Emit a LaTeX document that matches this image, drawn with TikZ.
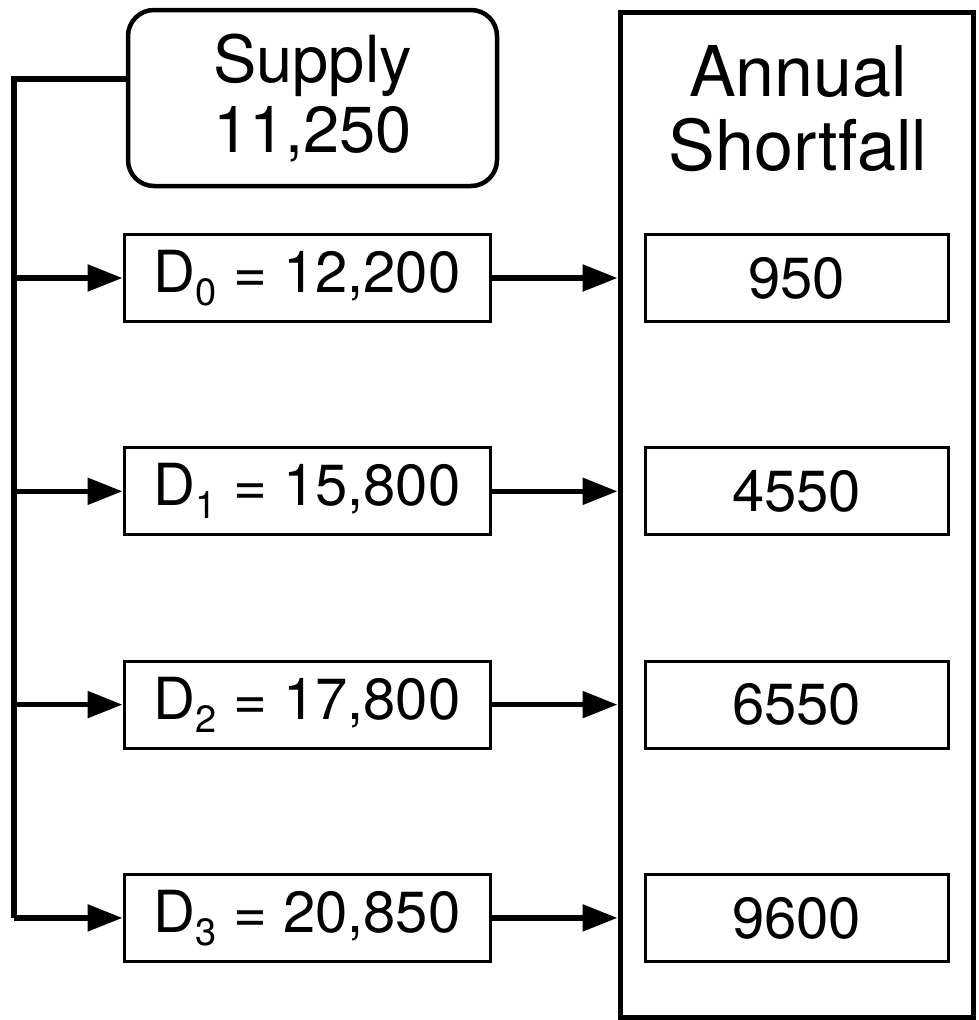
\documentclass[tikz,border=0pt]{standalone}
\usepackage{fontspec}
\setmainfont{TeX Gyre Heros}
\usetikzlibrary{arrows.meta, positioning}
\def\rowsep{213.3}
\newcommand{\dsub}[1]{\kern0.5pt\raisebox{-13pt}{\fontsize{38}{38}\selectfont #1}}

\begin{document}
\begin{tikzpicture}[x=1pt, y=-1pt, line width=5.5pt, -{Triangle[length=35pt,width=26pt]}]
    \tikzstyle{box}=[draw=black, rectangle, line width=3pt, inner sep=0pt, minimum height=87pt, font=\fontsize{58}{60}\selectfont]
    \tikzstyle{demand box}=[box, minimum width=366pt]
    \tikzstyle{shortfall box}=[box, minimum width=303pt]
    \tikzstyle{supply box}=[box, line width=4.5pt, rounded corners=26pt, minimum width=369pt, minimum height=176pt, align=center, font=\fontsize{65}{70}\selectfont]
    \tikzstyle{annot}=[align=center, inner sep=0pt, font=\fontsize{70}{74}\selectfont]
    \useasboundingbox (0,0) rectangle (978,1020);

    % Supply on top, the shortfall column on the right
    \node[supply box] (supply) at (312.5,98) {Supply\\11{,}250};
    \node[draw=black, line width=5pt, minimum width=353pt, minimum height=1005pt] (col) at (796.5,514.5) {};
    \node[annot, anchor=north] (title) at (798,43) {Annual\\Shortfall};

    % Demand cases and their shortfalls
    \foreach \i/\d/\s in {0/12{,}200/950, 1/15{,}800/4550, 2/17{,}800/6550, 3/20{,}850/9600}
    {
        \node[demand box] (D-\i) at (307,278+\i*\rowsep) {D\dsub{\i} = \d};
        \node[shortfall box] (S-\i) at (796.5,278+\i*\rowsep) {\s};
    }

    % Feed line from the supply down the left side
    \coordinate (bus top) at (14,79);
    \draw[-] (supply.west |- bus top) -- (bus top) -- (bus top |- D-3);

    \foreach \i in {0,...,3}
    {
        \draw (bus top |- D-\i) -- (D-\i.west);
        \draw (D-\i.east) -- (col.west |- D-\i);
    }
\end{tikzpicture}
\end{document}
